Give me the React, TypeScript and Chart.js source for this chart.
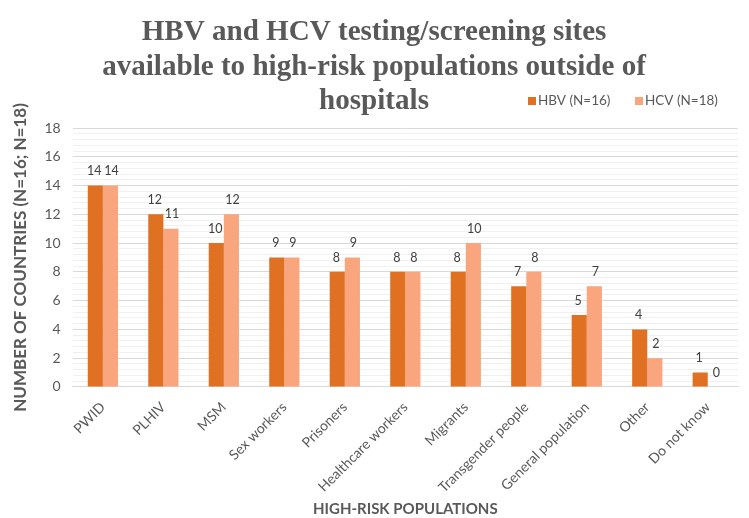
import React, { useEffect, useRef } from "react";
import { Chart, registerables } from "chart.js";

Chart.register(...registerables);

const categories = [
  "PWID",
  "PLHIV",
  "MSM",
  "Sex workers",
  "Prisoners",
  "Healthcare workers",
  "Migrants",
  "Transgender people",
  "General population",
  "Other",
  "Do not know",
];
const hbvValues = [14, 12, 10, 9, 8, 8, 8, 7, 5, 4, 1];
const hcvValues = [14, 11, 12, 9, 9, 8, 10, 8, 7, 2, 0];
const seriesNames = ["HBV (N=16)", "HCV (N=18)"];
const titleLines = [
  "HBV and HCV testing/screening sites",
  "available to high-risk populations outside of",
  "hospitals",
];
const yTitle = "NUMBER OF COUNTRIES (N=16; N=18)";
const xTitle = "HIGH-RISK POPULATIONS";

const HBV_COLOR = "#E07122";
const HCV_COLOR = "#F9A67F";
const TEXT = "#595959";
const SANS = "Lato, 'Open Sans', sans-serif";

const overlayPlugin = {
  id: "overlay",
  afterDraw(chart: any) {
    const ctx = chart.ctx;
    ctx.save();
    // title
    ctx.fillStyle = TEXT;
    ctx.textAlign = "center";
    ctx.textBaseline = "alphabetic";
    let size = 28;
    ctx.font = `bold ${size}px 'Liberation Serif', serif`;
    const w = ctx.measureText(titleLines[1]).width;
    size = (size * 544) / w;
    ctx.font = `bold ${size}px 'Liberation Serif', serif`;
    const baselines = [40, 75, 109];
    titleLines.forEach((t, i) => ctx.fillText(t, 374, baselines[i]));
    // legend
    ctx.font = `13.5px ${SANS}`;
    ctx.textAlign = "left";
    ctx.textBaseline = "middle";
    const items = [
      { x: 528, c: HBV_COLOR, t: seriesNames[0] },
      { x: 635, c: HCV_COLOR, t: seriesNames[1] },
    ];
    items.forEach((it) => {
      ctx.fillStyle = it.c;
      ctx.fillRect(it.x, 97, 8, 8);
      ctx.fillStyle = TEXT;
      ctx.fillText(it.t, it.x + 10, 101);
    });
    // data labels
    ctx.font = `12.5px ${SANS}`;
    ctx.fillStyle = "#404040";
    ctx.textAlign = "center";
    ctx.textBaseline = "bottom";
    chart.data.datasets.forEach((ds: any, di: number) => {
      const meta = chart.getDatasetMeta(di);
      meta.data.forEach((el: any, i: number) => {
        ctx.fillText(String(ds.data[i]), el.x + (di === 0 ? -1 : 1), el.y - 8);
      });
    });
    ctx.restore();
  },
  beforeDraw(chart: any) {
    const ctx = chart.ctx;
    ctx.save();
    ctx.fillStyle = "#ffffff";
    ctx.fillRect(0, 0, chart.width, chart.height);
    ctx.restore();
  },
};

function isMajor(v: number) {
  return Math.abs(v / 2 - Math.round(v / 2)) < 1e-6;
}

export default function App() {
  const ref = useRef<HTMLCanvasElement | null>(null);
  useEffect(() => {
    if (!ref.current) return;
    const chart = new Chart(ref.current, {
      type: "bar",
      data: {
        labels: categories,
        datasets: [
          {
            label: seriesNames[0],
            data: hbvValues,
            backgroundColor: HBV_COLOR,
            barPercentage: 1,
            categoryPercentage: 0.5,
          },
          {
            label: seriesNames[1],
            data: hcvValues,
            backgroundColor: HCV_COLOR,
            barPercentage: 1,
            categoryPercentage: 0.5,
          },
        ],
      },
      options: {
        responsive: false,
        animation: false,
        layout: { padding: { top: 128, right: 11, left: 10, bottom: 0 } },
        plugins: {
          legend: { display: false },
          title: { display: false },
          tooltip: { enabled: false },
        },
        scales: {
          x: {
            grid: { display: false },
            border: { color: "#D9D9D9", width: 1 },
            ticks: {
              color: TEXT,
              font: { family: SANS, size: 14 },
              maxRotation: 45,
              minRotation: 45,
              autoSkip: false,
              padding: 4,
            },
            title: {
              display: true,
              text: xTitle,
              color: TEXT,
              font: { family: SANS, size: 15, weight: "bold" },
              padding: { top: 0, bottom: 0 },
            },
          },
          y: {
            min: 0,
            max: 18,
            border: { display: false },
            grid: {
              color: (c: any) => (isMajor(c.tick.value) ? "#D9D9D9" : "#F0F0F0"),
              lineWidth: 1,
              drawTicks: false,
            },
            ticks: {
              stepSize: 0.4,
              maxTicksLimit: 100,
              autoSkip: false,
              color: TEXT,
              font: { family: SANS, size: 14 },
              padding: 12,
              callback: (v: any) => (isMajor(Number(v)) ? String(Math.round(Number(v))) : ""),
            },
            title: {
              display: true,
              text: yTitle,
              color: TEXT,
              font: { family: SANS, size: 17, weight: "bold" },
              padding: { top: 0, bottom: 2 },
            },
          },
        },
      },
      plugins: [overlayPlugin],
    });
    return () => chart.destroy();
  }, []);
  return (
    <div style={{ position: "fixed", left: 0, top: 0, width: 749, height: 518, background: "#fff" }}>
      <canvas ref={ref} width={749} height={518} />
    </div>
  );
}
